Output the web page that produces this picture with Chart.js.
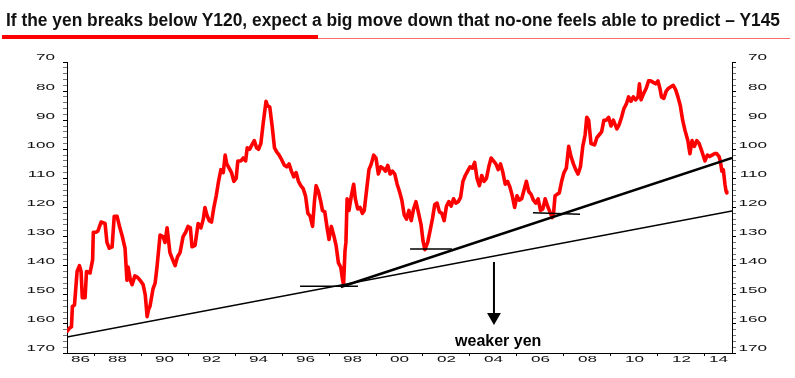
<!DOCTYPE html>
<html><head><meta charset="utf-8">
<script src="https://cdn.jsdelivr.net/npm/chart.js@4"></script>
<style>
body{margin:0;background:#fff;width:795px;height:378px;overflow:hidden;position:relative}
#title{position:absolute;left:6px;top:11px;font:bold 18px "Liberation Sans",Arial,sans-serif;line-height:18px;white-space:nowrap;color:#111;transform-origin:0 0}
#u1{position:absolute;left:2px;top:35px;width:316px;height:4px;background:#f00}
#u2{position:absolute;left:318px;top:37.5px;width:472px;height:1.5px;background:#ff6a6a}
canvas{position:absolute;left:0;top:0}
</style></head><body>
<canvas id="c" width="795" height="378"></canvas>
<div id="title">If the yen breaks below Y120, expect a big move down that no-one feels able to predict – Y145</div>
<div id="u1"></div><div id="u2"></div>
<script>
// ---- data (decimal year, yen per dollar) ----
const years = [1986.86,1986.95,1987.04,1987.08,1987.17,1987.25,1987.28,1987.38,1987.45,1987.5,1987.62,1987.68,1987.83,1987.94,1987.97,
1988.1,1988.17,1988.3,1988.47,1988.55,1988.65,1988.77,1988.86,1988.98,
1989.1,1989.19,1989.32,1989.4,1989.45,1989.55,1989.62,1989.74,1989.85,1989.96,
1990.09,1990.18,1990.26,1990.32,1990.38,1990.51,1990.6,1990.68,1990.81,1990.94,
1991.02,1991.11,1991.23,1991.35,1991.45,1991.55,1991.66,1991.79,1991.9,
1992.0,1992.1,1992.17,1992.3,1992.43,1992.55,1992.65,1992.72,1992.8,1992.9,
1993.0,1993.1,1993.2,1993.3,1993.4,1993.5,1993.58,1993.65,1993.75,1993.85,1993.95,
1994.05,1994.12,1994.25,1994.35,1994.45,1994.52,1994.62,1994.72,1994.82,1994.92,
1995.0,1995.1,1995.2,1995.28,1995.32,1995.38,1995.48,1995.58,1995.68,1995.78,1995.88,1995.98,
1996.1,1996.2,1996.3,1996.4,1996.5,1996.6,1996.7,1996.8,1996.9,
1997.0,1997.1,1997.2,1997.3,1997.38,1997.45,1997.55,1997.65,1997.72,1997.82,1997.92,
1998.0,1998.1,1998.2,1998.3,1998.4,1998.5,1998.58,1998.62,1998.68,1998.72,1998.77,1998.85,1998.95,
1999.05,1999.12,1999.22,1999.32,1999.42,1999.5,1999.6,1999.7,1999.8,1999.9,
2000.0,2000.1,2000.2,2000.3,2000.4,2000.5,2000.6,2000.7,2000.8,2000.9,
2001.0,2001.1,2001.2,2001.3,2001.4,2001.5,2001.6,2001.7,2001.8,2001.92,
2002.0,2002.08,2002.2,2002.3,2002.4,2002.5,2002.6,2002.7,2002.8,2002.9,
2003.0,2003.1,2003.2,2003.3,2003.4,2003.5,2003.6,2003.7,2003.8,2003.9,
2004.0,2004.1,2004.2,2004.3,2004.4,2004.5,2004.6,2004.7,2004.8,2004.9,
2005.0,2005.1,2005.2,2005.3,2005.4,2005.5,2005.6,2005.7,2005.8,2005.9,
2006.0,2006.1,2006.2,2006.3,2006.4,2006.5,2006.6,2006.7,2006.8,2006.9,
2007.0,2007.1,2007.2,2007.3,2007.4,2007.5,2007.55,2007.62,2007.7,2007.8,2007.9,
2008.0,2008.1,2008.2,2008.3,2008.4,2008.5,2008.6,2008.7,2008.8,2008.9,2008.97,
2009.05,2009.15,2009.3,2009.4,2009.5,2009.6,2009.7,2009.8,2009.9,
2010.0,2010.1,2010.25,2010.35,2010.45,2010.55,2010.65,2010.75,2010.85,2010.95,
2011.05,2011.15,2011.21,2011.28,2011.38,2011.5,2011.6,2011.7,2011.8,2011.9,
2012.0,2012.08,2012.15,2012.25,2012.35,2012.45,2012.55,2012.65,2012.75,2012.85,2012.95,
2013.05,2013.15,2013.27,2013.36,2013.45,2013.55,2013.65,2013.75,2013.88,
2014.0,2014.1,2014.2,2014.3,2014.4,2014.5,2014.6,2014.65,2014.72,2014.78,2014.85,2014.9,2014.93];
const usdjpy = [162.5,161.5,161,154,153.5,145,142,140,142,151,151,142,142.5,138,128.5,
128.5,128,125,125.5,132,134,133.5,123,123,
127,129.5,134,145,140.5,145,146.5,143.5,144,145,
146.5,150,157.5,155,154,148,146,140.5,129.5,130,
132,127,135.5,138,140,137,135.5,130,128.5,
126.5,127,133.5,133,125.5,127,124,120,122.5,124.5,
125,120,116,111,107,108,102,105,106.5,108,111,
110,104,104,103,104,99.5,100,98.5,97,99.5,
100,98,91,86,83.5,85,85.5,92,99.5,101,102,103.5,
105.5,106,105,107.5,109.5,108,111,112.5,113.5,
116,122,123,126.5,118,112.5,114.5,118,121,121.5,127,
131,126.5,129.5,133,139,140.5,145,146.5,135,132,117,121,116,
112,117,120.5,120,122,121,114,107,105,102,
103,108.5,106,106.5,107.5,105.5,108.5,107.5,108.5,112,
114.5,117.5,122.5,124,121,124.5,120.5,118,121.5,126,
131.5,134.5,132,128,124,119,118.5,121.5,122,124.5,
119.5,118,119.5,117,118.5,118,116.5,111,109,107.5,
106,106.5,104.5,110,112.5,109,111,110,106,103,
104,105,107,105,108,112,111,113,116,120,
116,117.5,117,114,111,114.5,115.5,117.5,118.5,117,
121,120.5,117,119.5,121.5,123.5,122.5,116,115.5,115,111,
108,106.5,99,102.5,105,107,108.5,106,99,95,89,
90,98,98.5,96,95,94,90,90,89,
92,90,93,91.5,89,86,84.5,82,83.5,82,
83,82,77.5,83,81,79,76.5,76.5,77,77.5,
76.5,79,82,82.5,80,79,78.5,78,79.5,82,85,
90,93.5,97,101.5,97,99,97,98,101,
104,102,102.5,102,101.5,101.5,102.5,104,107.5,107,112,114.5,115];

// axis ranges and tick labels
const xMin = 1986.85, xMax = 2015.15;
const yMin = 70, yMax = 170;
const xLabelYears = [1986,1988,1990,1992,1994,1996,1998,2000,2002,2004,2006,2008,2010,2012,2014];
const yLabelValues = [70,80,90,100,110,120,130,140,150,160,170];

// annotation lines (data coordinates)
const thinTrendX = [1986.85, 2015.15], thinTrendY = [164.5, 121.2];
const thickTrendX = [1998.5, 2015.15], thickTrendY = [147.3, 103.0];
const mark1X = [1996.77, 1999.23], mark1Y = [147.1, 147.1];
const mark2X = [2001.45, 2003.23], mark2Y = [134.3, 134.3];
const mark3X = [2006.68, 2008.68], mark3Y = [121.8, 122.3];
const arrowX = [2005.02, 2005.02], arrowY = [138.7, 157.0];
const arrowHead = {x: 2005.02, y: 157.6};
const noteText = 'weaker yen', noteX = 2005.2, noteY = 166;

const STRETCH = 1.9;
const pts = (xs, ys) => xs.map((x, i) => ({x, y: ys[i]}));
const blackLine = (xs, ys, w) => ({data: pts(xs, ys), borderColor: '#000', borderWidth: w, pointRadius: 0, order: 0, fill: false});

const labelPlugin = {
  id: 'stretchLabels',
  afterDraw(chart) {
    const ctx = chart.ctx, xs = chart.scales.x, yl = chart.scales.y, yr = chart.scales.y2;
    ctx.save();
    ctx.fillStyle = '#111';
    ctx.font = '9px "Liberation Sans", Arial, sans-serif';
    ctx.textBaseline = 'middle';
    const draw = (t, x, y, align) => { ctx.save(); ctx.translate(x, y); ctx.scale(STRETCH, 1); ctx.textAlign = align; ctx.fillText(t, 0, 0); ctx.restore(); };
    yLabelValues.forEach(v => {
      const py = yl.getPixelForValue(v) - 4;
      draw(String(v), yl.right - 12, py, 'right');
      draw(String(v), yr.left + 35, py, 'right');
    });
    xLabelYears.forEach(Y => {
      const a = Math.max(Y, xs.min), b = Math.min(Y + 2, xs.max);
      draw(String(Y % 100).padStart(2, '0'), xs.getPixelForValue((a + b) / 2), xs.top + 7, 'center');
    });
    ctx.font = 'bold 16px "Liberation Sans", Arial, sans-serif';
    ctx.textAlign = 'center';
    ctx.fillStyle = '#000';
    ctx.fillText(noteText, xs.getPixelForValue(noteX), yl.getPixelForValue(noteY));
    ctx.restore();
  }
};

const yAxis = (pos, w) => ({
  type: 'linear', position: pos, reverse: true, min: yMin, max: yMax,
  afterBuildTicks: s => { const t = []; for (let v = yMin; v <= yMax; v += 2) t.push({value: v}); s.ticks = t; },
  afterFit: s => { s.width = w; },
  ticks: {display: false},
  border: {display: true, color: '#000', width: 1},
  grid: {drawOnChartArea: false, drawTicks: true, tickLength: 4,
    color: c => (c.tick && c.tick.value % 10 === 0) ? '#000' : '#777'}
});

new Chart(document.getElementById('c'), {
  type: 'line',
  data: {datasets: [
    blackLine(thinTrendX, thinTrendY, 1.3),
    blackLine(thickTrendX, thickTrendY, 2.5),
    blackLine(mark1X, mark1Y, 1.5),
    blackLine(mark2X, mark2Y, 1.5),
    blackLine(mark3X, mark3Y, 1.5),
    blackLine(arrowX, arrowY, 2),
    {data: [arrowHead], showLine: false, pointStyle: 'triangle', rotation: 180, pointRadius: 8, backgroundColor: '#000', borderWidth: 0, order: 0},
    {data: pts(years, usdjpy), borderColor: '#ff0000', borderWidth: 3.6, pointRadius: 0, tension: 0, borderJoinStyle: 'round', borderCapStyle: 'round', order: 1, fill: false}
  ]},
  options: {
    responsive: false, animation: false, devicePixelRatio: 1,
    layout: {padding: {top: 62, left: 0, right: 0, bottom: 0}},
    plugins: {legend: {display: false}, tooltip: {enabled: false}, title: {display: false}},
    scales: {
      x: {type: 'linear', position: 'bottom', min: xMin, max: xMax,
        afterBuildTicks: s => { const t = []; for (let Y = 1988; Y <= 2014; Y += 2) t.push({value: Y}); s.ticks = t; },
        afterFit: s => { s.height = 25; },
        ticks: {display: false},
        border: {display: true, color: '#000', width: 1},
        grid: {drawOnChartArea: false, drawTicks: true, tickLength: 3, color: '#000'}},
      y: yAxis('left', 67),
      y2: yAxis('right', 63)
    }
  },
  plugins: [labelPlugin]
});

const title = document.getElementById('title');
const w = title.getBoundingClientRect().width;
title.style.transform = 'scaleX(' + (774 / w) + ')';
</script>
</body></html>
